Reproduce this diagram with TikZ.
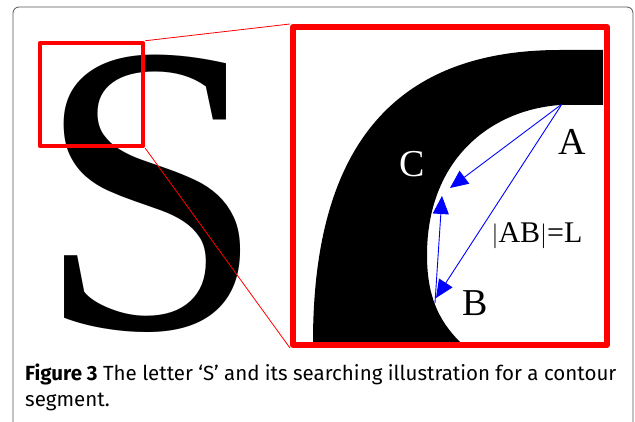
\documentclass[tikz,border=0pt]{standalone}
\usepackage{fontspec}
\setmainfont{Liberation Serif}
\newfontfamily\capfont{Fira Sans}
\usetikzlibrary{arrows.meta,positioning}
\definecolor{zmred}{HTML}{FF0000}
\definecolor{zmblue}{HTML}{0000FF}
\definecolor{zmframe}{HTML}{555555}
\tikzset{
  frame/.style={draw=zmframe,line width=0.8pt,rounded corners=6pt},
  lens/.style={draw=zmred,line width=4.5pt,line join=round,minimum size=103pt,inner sep=0pt},
  zoomview/.style={draw=zmred,line width=6pt,line join=round,minimum width=314pt,minimum height=318pt,inner sep=0pt},
  link/.style={zmred,line width=0.8pt},
  seek/.style={-{Triangle[length=18pt,width=16pt]},zmblue,line width=0.9pt},
  ptlab/.style={font=\fontsize{38}{38}\selectfont,inner sep=0pt},
  caption/.style={font=\capfont\fontsize{20.5}{26}\selectfont,align=left,inner sep=0pt},
}
\begin{document}
\begin{tikzpicture}[x=1pt,y=-1pt]
  \useasboundingbox (0,0) rectangle (635,422);
  % outer frame, open at the bottom
  \draw[frame] (13,430) -- (13,7) -- (633,7) -- (633,430);
  % the letter
  \node[font=\fontsize{413}{413}\selectfont,inner sep=0pt,anchor=base west] (bigS) at (36,329) {S};
  % enlarged stroke of the letter
  \fill[black] (603,50) -- (560,50) .. controls (400,50) and (313,140) .. (313,342)
    -- (460,342) .. controls (438,320) and (427,295) .. (427,255)
    .. controls (427,160) and (490,110) .. (560,105) -- (603,105) -- cycle;
  \coordinate (ptA) at (562,104);
  \coordinate (ptB) at (435,303);
  \coordinate (hitA) at (450,188);
  \coordinate (hitB) at (436,298);
  \coordinate (hitC) at (442,196);
  \draw[seek] (ptA) -- (hitA);
  \draw[seek] (ptA) -- (hitB);
  \draw[seek] (ptB) -- (hitC);
  \node[ptlab] (labA) at (572,142) {A};
  \node[ptlab] (labB) at (475,303) {B};
  \node[ptlab,text=white] (labC) at (412,164) {C};
  \node[font=\fontsize{30}{30}\selectfont,inner sep=0pt] (labL) at (537,236) {$|$AB$|$=L};
  % zoom boxes
  \node[lens] (lens) at (91.5,94.5) {};
  \node[zoomview] (view) at (450,186) {};
  \draw[link] (lens.north east) -- (view.north west);
  \draw[link] (lens.south east) -- (view.south west);
  % caption
  \node[caption,anchor=north west] (cap) at (25,364)
    {\textbf{Figure 3} The letter ‘S’ and its searching illustration for a contour\\segment.};
\end{tikzpicture}
\end{document}
